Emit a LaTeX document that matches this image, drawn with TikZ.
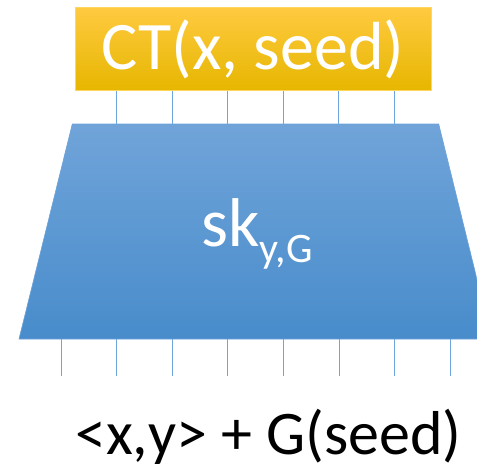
\documentclass[tikz,border=0pt]{standalone}
\usepackage{fontspec}
\setmainfont{Carlito}
\usepackage{tikz}
\usetikzlibrary{positioning, calc}
\definecolor{cttop}{RGB}{255,202,64}
\definecolor{ctmid}{RGB}{255,192,0}
\definecolor{ctbot}{RGB}{230,182,0}
\definecolor{ctedge}{RGB}{255,214,96}
\definecolor{sktop}{RGB}{112,164,217}
\definecolor{skmid}{RGB}{90,155,215}
\definecolor{skbot}{RGB}{72,140,203}
\definecolor{skedge}{RGB}{108,162,218}
\definecolor{pinblue}{RGB}{110,165,220}
\tikzset{
  ctbox/.style={rectangle, draw=ctedge, top color=cttop, middle color=ctmid,
    bottom color=ctbot, minimum width=356pt, minimum height=83pt,
    inner sep=0pt, line width=0.8pt, text=white},
  skbox/.style={draw=skedge, top color=sktop, middle color=skmid,
    bottom color=skbot, line width=0.6pt},
  pin/.style={draw=pinblue, line width=0.9pt}
}

\begin{document}
\begin{tikzpicture}[x=1pt, y=-1pt]
  \useasboundingbox (0,0) rectangle (477,469);
  \clip (0,0) rectangle (477,469);

  % --- Key (trapezoid, cut at the right edge) ---
  \coordinate (sktl) at (72.3, 124);
  \coordinate (sktr) at (438.7, 124);
  \coordinate (skbr) at (491.7, 339);
  \coordinate (skbl) at (19, 339);
  \path[skbox] (sktl) -- (sktr) -- (skbr) -- (skbl) -- cycle;
  \node[font=\fontsize{69}{69}\selectfont, text=white, inner sep=0pt,
        anchor=base west] (sklabel) at (201, 246.7)
        {sk\raisebox{-15.5pt}{\fontsize{42}{42}\selectfont y,G}};

  % --- Ciphertext ---
  \node[ctbox, font=\fontsize{68}{68}\selectfont] (ct) at (253.2, 49.2) {CT(x, seed)};

  % --- Wires into the key ---
  \draw[pin] (ct.south -| 116.7,0) -- (sktl -| 116.7,0);
  \draw[pin] (ct.south -| 172,0) -- (sktl -| 172,0);
  \draw[pin] (ct.south -| 227.5,0) -- (sktl -| 227.5,0);
  \draw[pin] (ct.south -| 283,0) -- (sktl -| 283,0);
  \draw[pin] (ct.south -| 338.7,0) -- (sktl -| 338.7,0);
  \draw[pin] (ct.south -| 394.3,0) -- (sktl -| 394.3,0);

  % --- Wires out of the key ---
  \draw[pin] (skbl -| 61,0) -- ++(0,36.7);
  \draw[pin] (skbl -| 116.7,0) -- ++(0,36.7);
  \draw[pin] (skbl -| 172,0) -- ++(0,36.7);
  \draw[pin] (skbl -| 227.7,0) -- ++(0,36.7);
  \draw[pin] (skbl -| 283.3,0) -- ++(0,36.7);
  \draw[pin] (skbl -| 339,0) -- ++(0,36.7);
  \draw[pin] (skbl -| 394.7,0) -- ++(0,36.7);
  \draw[pin] (skbl -| 450.3,0) -- ++(0,36.7);

  \node[font=\fontsize{62}{62}\selectfont, inner sep=0pt, anchor=base]
        (result) at (268.3, 454) {<x,y> + G(seed)};
\end{tikzpicture}
\end{document}
